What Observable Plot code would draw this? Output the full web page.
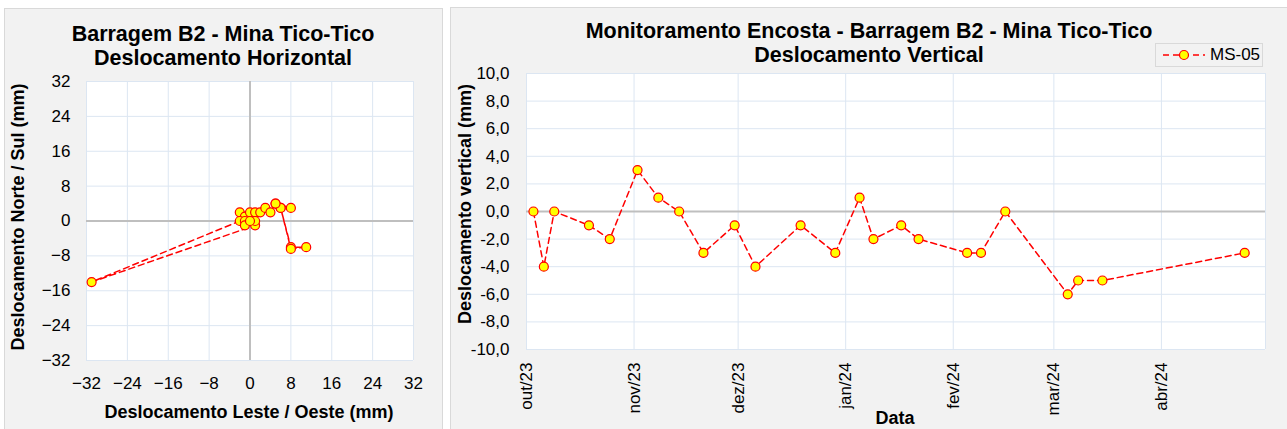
<!DOCTYPE html>
<html>
<head>
<meta charset="utf-8">
<script src="https://cdn.jsdelivr.net/npm/d3@7"></script>
<script src="https://cdn.jsdelivr.net/npm/@observablehq/plot@0.6"></script>
<style>
  html, body { margin: 0; padding: 0; background: #ffffff; width: 1287px; height: 429px; overflow: hidden; }
  body { position: relative; font-family: "Liberation Sans", Arial, sans-serif; color: #000; }
  .panel { position: absolute; background: #f2f2f2; border: 1px solid #d9d9d9; box-sizing: border-box; }
  .title { position: absolute; font-weight: bold; font-size: 21.5px; text-align: center; line-height: 24px; white-space: nowrap; }
  .axt { position: absolute; font-weight: bold; font-size: 18px; white-space: nowrap; line-height: 20px; }
  .plotbox { position: absolute; }
  .legend { position: absolute; border: 1px solid #d9d9d9; background: #f2f2f2; box-sizing: border-box; font-size: 17px; display: flex; align-items: center; }
</style>
</head>
<body>
<div class="panel" style="left:4px; top:8px; width:439px; height:430px;"></div>
<div class="panel" style="left:450px; top:7px; width:845px; height:430px;"></div>

<div class="title" style="left:23px; top:22px; width:400px;">Barragem B2 - Mina Tico-Tico<br>Deslocamento Horizontal</div>
<div class="title" style="left:569px; top:19px; width:600px;">Monitoramento Encosta - Barragem B2 - Mina Tico-Tico<br>Deslocamento Vertical</div>

<div id="left" class="plotbox" style="left:4px; top:8px;"></div>
<div id="right" class="plotbox" style="left:450px; top:7px;"></div>

<div class="axt" style="left:49px; top:402px; width:400px; text-align:center;">Deslocamento Leste / Oeste (mm)</div>
<div class="axt" style="left:-182px; top:207px; width:400px; text-align:center; transform:rotate(-90deg);">Deslocamento Norte / Sul (mm)</div>
<div class="axt" style="left:265px; top:194px; width:400px; text-align:center; transform:rotate(-90deg);">Deslocamento vertical (mm)</div>
<div class="axt" style="left:845px; top:408px; width:100px; text-align:center;">Data</div>

<div class="legend" style="left:1155px; top:43px; width:108px; height:24px;">
  <svg width="50" height="20" style="margin-left:4px;">
    <line x1="3" y1="10" x2="45" y2="10" stroke="#ff0000" stroke-width="1.5" stroke-dasharray="6,4"></line>
    <circle cx="24" cy="10" r="4.5" fill="#ffff00" stroke="#ff0000" stroke-width="1.2"></circle>
  </svg>
  <span>MS-05</span>
</div>

<script>
// ---- Horizontal displacement (mm), in time order ----
const hEast  = [0, -2, -1, 0, -2, -31, 1, -1, 1, -1, 2, 1, 0, 3, 4, 5, 6, 8, 11, 8, 6, 5, 8];
const hNorth = [0, 2, 1, 2, 0, -14, -1, 0, 2, -1, 2, 0, 0, 3, 2, 4, 3, -6, -6, -6.4, 3, 4, 3];
const hTicks = [-32, -24, -16, -8, 0, 8, 16, 24, 32];

// ---- Vertical displacement MS-05 ----
const vDates = ["2023-10-03","2023-10-06","2023-10-09","2023-10-19","2023-10-25","2023-11-02","2023-11-08",
  "2023-11-14","2023-11-21","2023-11-30","2023-12-06","2023-12-19","2023-12-29","2024-01-05","2024-01-09",
  "2024-01-17","2024-01-22","2024-02-05","2024-02-09","2024-02-16","2024-03-05","2024-03-08","2024-03-15","2024-04-25"];
const vValues = [0, -4, 0, -1, -2, 3, 1, 0, -3, -1, -4, -1, -3, 1, -2, -1, -2, -3, -3, 0, -6, -5, -5, -3];
const monthTicks = ["2023-10-01","2023-11-01","2023-12-01","2024-01-01","2024-02-01","2024-03-01","2024-04-01"];
const monthLabels = ["out/23","nov/23","dez/23","jan/24","fev/24","mar/24","abr/24"];
const monthGrid = ["2023-10-01","2023-11-01","2023-12-01","2024-01-01","2024-02-01","2024-03-01","2024-04-01","2024-05-01"];
const vTicks = [-10, -8, -6, -4, -2, 0, 2, 4, 6, 8, 10];

const gridColor = "#dce6f2";
const zeroColor = "#bfbfbf";
const lineColor = "#ff0000";
const dotFill = "#ffff00";
const dash = "6,4";
const tickFont = 17;

const hData = hEast.map((e, i) => ({e, n: hNorth[i]}));
const left = Plot.plot({
  width: 439, height: 421,
  marginLeft: 82, marginRight: 30, marginTop: 73, marginBottom: 69,
  style: {background: "transparent", fontFamily: "Liberation Sans, Arial, sans-serif", fontSize: "17px", color: "#000"},
  x: {domain: [-32, 32]},
  y: {domain: [-32, 32]},
  marks: [
    Plot.frame({fill: "white", stroke: null}),
    Plot.gridX(hTicks, {stroke: gridColor, strokeOpacity: 1}),
    Plot.gridY(hTicks, {stroke: gridColor, strokeOpacity: 1}),
    Plot.ruleX([0], {stroke: zeroColor, strokeWidth: 2}),
    Plot.ruleY([0], {stroke: zeroColor, strokeWidth: 2}),
    Plot.line(hData, {x: "e", y: "n", stroke: lineColor, strokeWidth: 1.5, strokeDasharray: dash}),
    Plot.dot(hData, {x: "e", y: "n", r: 4.5, fill: dotFill, stroke: lineColor, strokeWidth: 1.2}),
    Plot.axisX({ticks: hTicks, tickSize: 0, tickPadding: 16, label: null, fontSize: tickFont}),
    Plot.axisY({ticks: hTicks, tickSize: 0, tickPadding: 16, label: null, fontSize: tickFont})
  ]
});
document.getElementById("left").appendChild(left);

const parse = d3.utcParse("%Y-%m-%d");
const vData = vDates.map((d, i) => ({date: parse(d), v: vValues[i]}));
const labelMap = new Map(monthTicks.map((d, i) => [+parse(d), monthLabels[i]]));
const fmtNum = d => d3.format(".1f")(d).replace(".", ",").replace("−", "-");

const right = Plot.plot({
  width: 837, height: 422,
  marginLeft: 76, marginRight: 22, marginTop: 66, marginBottom: 80,
  style: {background: "transparent", fontFamily: "Liberation Sans, Arial, sans-serif", fontSize: "17px", color: "#000"},
  x: {type: "utc", domain: [parse("2023-10-01"), parse("2024-05-01")]},
  y: {domain: [-10, 10]},
  marks: [
    Plot.frame({fill: "white", stroke: null}),
    Plot.gridX(monthGrid.map(parse), {stroke: gridColor, strokeOpacity: 1}),
    Plot.gridY(vTicks, {stroke: gridColor, strokeOpacity: 1}),
    Plot.ruleY([0], {stroke: zeroColor, strokeWidth: 2}),
    Plot.line(vData, {x: "date", y: "v", stroke: lineColor, strokeWidth: 1.5, strokeDasharray: dash}),
    Plot.dot(vData, {x: "date", y: "v", r: 4.5, fill: dotFill, stroke: lineColor, strokeWidth: 1.2}),
    Plot.axisX({ticks: monthTicks.map(parse), tickFormat: d => labelMap.get(+d), tickRotate: -90, tickSize: 0, tickPadding: 13, label: null, fontSize: tickFont}),
    Plot.axisY({ticks: vTicks, tickFormat: fmtNum, tickSize: 0, tickPadding: 17, label: null, fontSize: tickFont})
  ]
});
document.getElementById("right").appendChild(right);
</script>
</body>
</html>
